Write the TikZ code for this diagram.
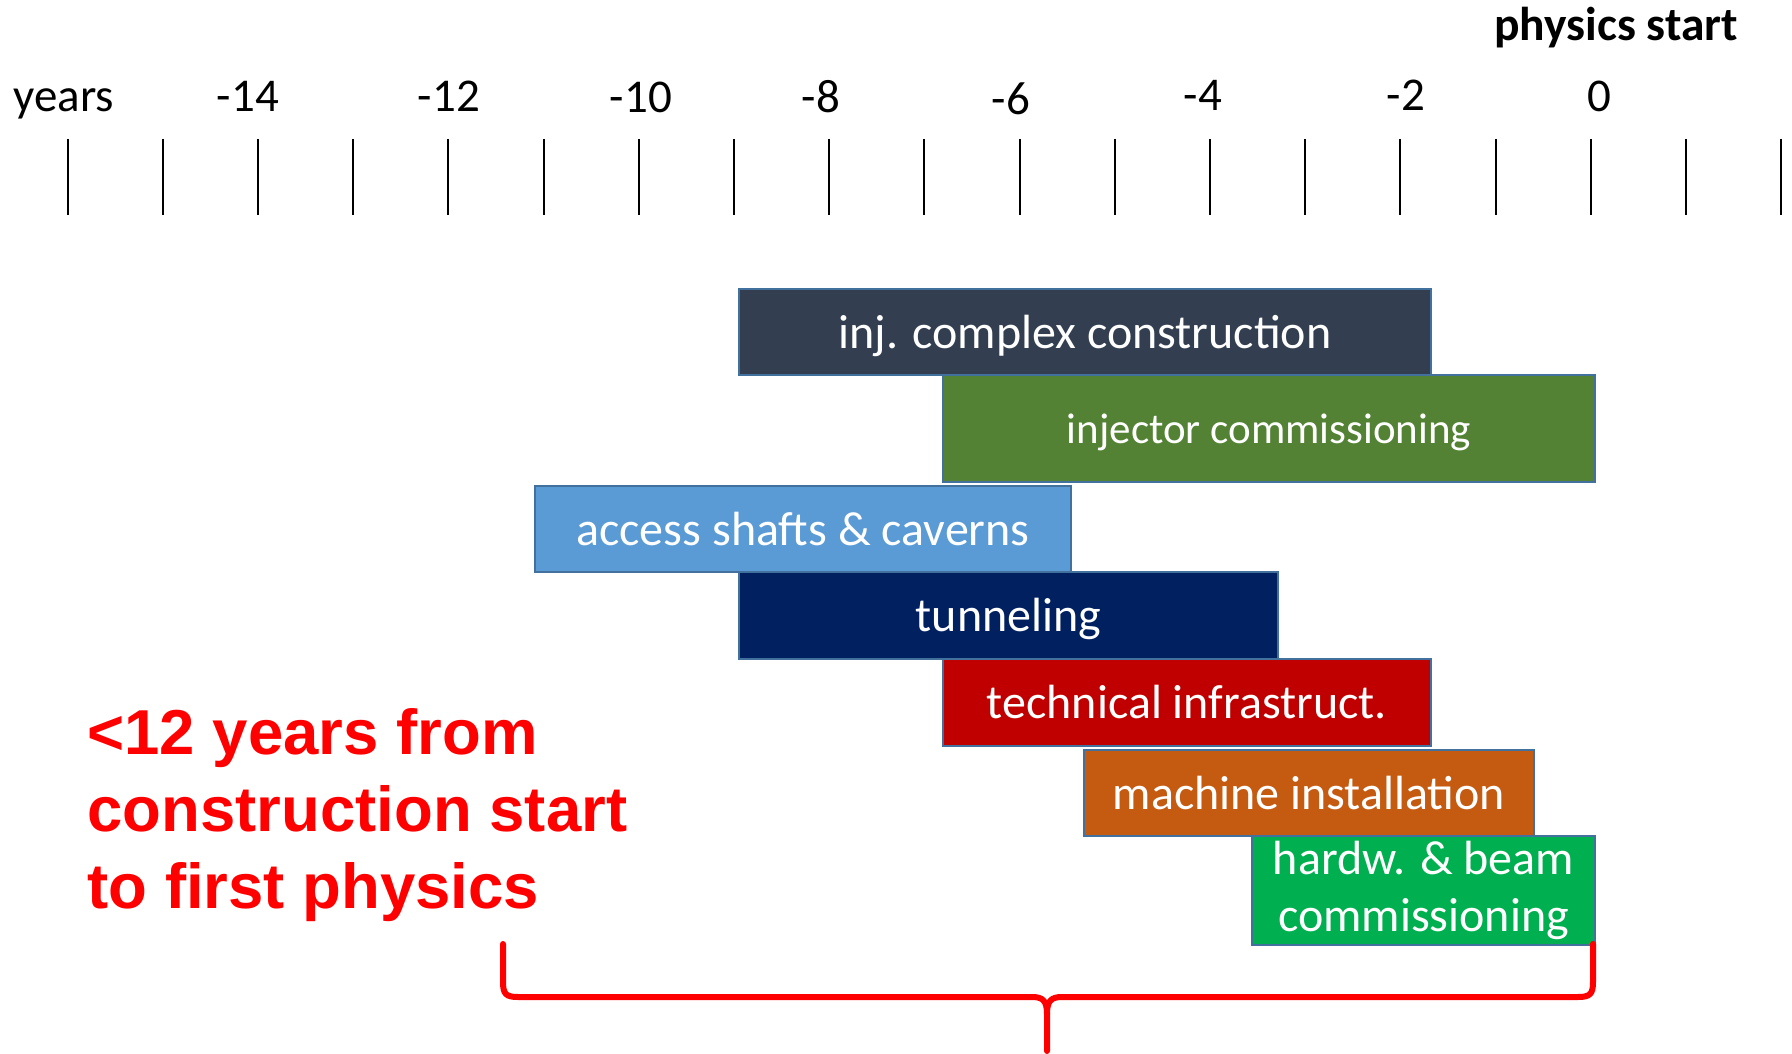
\documentclass[tikz,border=0pt]{standalone}
\usepackage{fontspec}
\setmainfont{Carlito}
\newfontfamily\arialfont{Liberation Sans}
\definecolor{outl}{HTML}{41719C}
\definecolor{cslate}{HTML}{333F50}
\definecolor{cgreen}{HTML}{548235}
\definecolor{clblue}{HTML}{5B9BD5}
\definecolor{cnavy}{HTML}{002060}
\definecolor{cred}{HTML}{C00000}
\definecolor{corange}{HTML}{C55A11}
\definecolor{cbright}{HTML}{00B050}
\definecolor{pred}{HTML}{FF0000}
\tikzset{
  bar/.style={draw=outl, line width=2pt, inner sep=0pt, anchor=north west, text=white,
    font=\fontsize{48}{57}\selectfont, align=center},
  oneline/.style={text height=40pt, text depth=8pt},
  yearlab/.style={anchor=base, font=\fontsize{47}{56}\selectfont},
  tick/.style={line width=2pt, black},
  brace/.style={line width=6pt, pred, line cap=round, line join=round}
}
\begin{document}
\begin{tikzpicture}[x=1pt,y=-1pt]
\useasboundingbox (0,0) rectangle (1792,1054);
% ticks
\foreach \k in {0,...,18}{
  \draw[tick] ({67.5+95.2*\k},139) -- ({67.5+95.2*\k},215);
}
\node[anchor=base west, font=\fontsize{47}{56}\selectfont] (yrs) at (10,112) {years};
\node[yearlab] (m14) at (248,112) {-14};
\node[yearlab] (m12) at (449,112) {-12};
\node[yearlab] (m10) at (641,113) {-10};
\node[yearlab] (m8) at (821,113) {-8};
\node[yearlab] (m6) at (1011,115) {-6};
\node[yearlab] (m4) at (1203,111) {-4};
\node[yearlab] (m2) at (1406,111) {-2};
\node[yearlab] (z0) at (1599,112) {0};
\node[anchor=base, font=\fontsize{47.5}{56}\selectfont\bfseries] (phys) at (1616,41) {physics start};
% bars
\node[bar, oneline, fill=cslate, minimum width=692pt, minimum height=86pt] (b1) at (738,288) {inj. complex construction};
\node[bar, fill=cgreen, minimum width=652pt, minimum height=107pt, font=\fontsize{43}{52}\selectfont, text height=36pt, text depth=7pt] (b2) at (942,374) {injector commissioning};
\node[bar, oneline, fill=clblue, minimum width=536pt, minimum height=86pt] (b3) at (534,485) {access shafts \& caverns};
\node[bar, oneline, fill=cnavy, minimum width=539pt, minimum height=87pt] (b4) at (738,571) {tunneling};
\node[bar, oneline, fill=cred, minimum width=488pt, minimum height=87pt] (b5) at (942,658) {technical infrastruct.};
\node[bar, oneline, fill=corange, minimum width=450pt, minimum height=86pt] (b6) at (1083,749) {machine installation};
\node[bar, fill=cbright, minimum width=343pt, minimum height=109pt] (b7) at (1251,835) {hardw. \& beam\\commissioning};
% red text
\node[anchor=west, align=left, text=pred, font=\arialfont\bfseries\fontsize{63.5}{77}\selectfont] (note) at (84,815)
  {<12 years from\\construction start\\to first physics};
% brace
\draw[brace] (503,944) -- (503,982) .. controls (503,994) and (506,997) .. (518,997)
  -- (1032,997) .. controls (1043,997) and (1047,1001) .. (1047,1014) -- (1047,1051);
\draw[brace] (1593,944) -- (1593,982) .. controls (1593,994) and (1590,997) .. (1578,997)
  -- (1062,997) .. controls (1051,997) and (1047,1001) .. (1047,1014);
\end{tikzpicture}
\end{document}
